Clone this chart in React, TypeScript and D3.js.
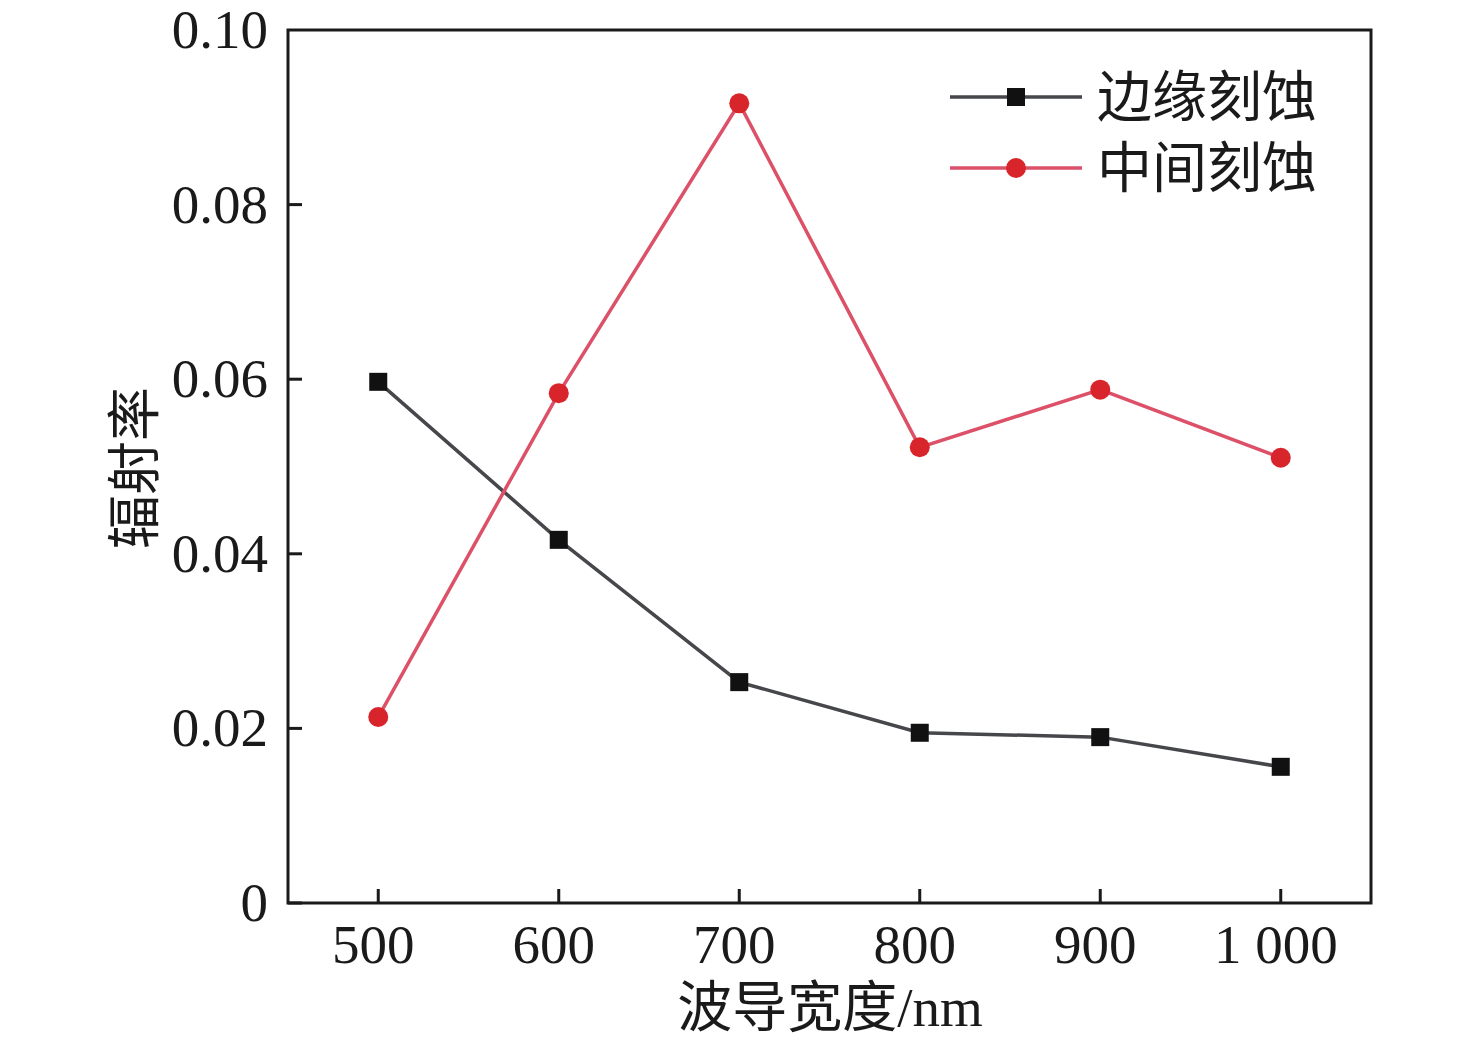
import React from "react";
import * as d3 from "d3";

const widths = [500, 600, 700, 800, 900, 1000];
const edgeEtch = [0.0597, 0.0416, 0.0253, 0.0195, 0.019, 0.0156];
const midEtch = [0.0213, 0.0584, 0.0916, 0.0522, 0.0588, 0.051];
const yTicks = [0, 0.02, 0.04, 0.06, 0.08, 0.1];
const xTicks = [500, 600, 700, 800, 900, 1000];
const xTickLabels = ["500", "600", "700", "800", "900", "1 000"];
const seriesNames = ["边缘刻蚀", "中间刻蚀"];

const W = 1476, H = 1043;
const L = 288, R = 1371, T = 30, B = 903;
const FONT = "'Liberation Serif', 'Times New Roman', 'Noto Sans CJK SC', serif";

export default function App() {
  const x = d3.scaleLinear().domain([450, 1050]).range([L, R]);
  const y = d3.scaleLinear().domain([0, 0.1]).range([B, T]);
  const line = d3.line<[number, number]>().x(d => x(d[0])).y(d => y(d[1]));
  const edgePts = widths.map((w, i) => [w, edgeEtch[i]] as [number, number]);
  const midPts = widths.map((w, i) => [w, midEtch[i]] as [number, number]);
  const blackLine = "#46474b";
  const redLine = "#dc5068";
  const redMark = "#d8252c";
  return (
    <svg width={W} height={H} style={{ position: "absolute", left: 0, top: 0, background: "#fff" }} fontFamily={FONT}>
      <rect x={0} y={0} width={W} height={H} fill="#fff" />
      <path d={line(edgePts) || ""} fill="none" stroke={blackLine} strokeWidth={3.5} />
      <path d={line(midPts) || ""} fill="none" stroke={redLine} strokeWidth={3.5} />
      {edgePts.map((p, i) => (
        <rect key={"e" + i} x={x(p[0]) - 9} y={y(p[1]) - 9} width={18} height={18} fill="#111" />
      ))}
      {midPts.map((p, i) => (
        <circle key={"m" + i} cx={x(p[0])} cy={y(p[1])} r={10} fill={redMark} />
      ))}
      <rect x={L} y={T} width={R - L} height={B - T} fill="none" stroke="#1a1a1a" strokeWidth={3} />
      {yTicks.map((t, i) => (
        <g key={"y" + i}>
          {t < 0.1 && <line x1={L} x2={L + 14} y1={y(t)} y2={y(t)} stroke="#1a1a1a" strokeWidth={3} />}
          <text x={268} y={y(t) + 18} textAnchor="end" fontSize={55} fill="#1a1a1a">
            {t === 0 ? "0" : t.toFixed(2)}
          </text>
        </g>
      ))}
      {xTicks.map((t, i) => (
        <g key={"x" + i}>
          <line x1={x(t)} x2={x(t)} y1={B} y2={B - 14} stroke="#1a1a1a" strokeWidth={3} />
          <text x={x(t) - 5} y={963} textAnchor="middle" fontSize={55} fill="#1a1a1a">
            {xTickLabels[i]}
          </text>
        </g>
      ))}
      <text x={830} y={1026} textAnchor="middle" fontSize={55} fill="#1a1a1a">波导宽度/nm</text>
      <text transform={`translate(154,468) rotate(-90)`} textAnchor="middle" fontSize={54} fill="#1a1a1a">辐射率</text>
      <g>
        <line x1={950} x2={1082} y1={97} y2={97} stroke={blackLine} strokeWidth={3.5} />
        <rect x={1016 - 9} y={97 - 9} width={18} height={18} fill="#111" />
        <text x={1097} y={116} fontSize={55} fill="#1a1a1a">{seriesNames[0]}</text>
        <line x1={950} x2={1082} y1={168} y2={168} stroke={redLine} strokeWidth={3.5} />
        <circle cx={1016} cy={168} r={10} fill={redMark} />
        <text x={1097} y={187} fontSize={55} fill="#1a1a1a">{seriesNames[1]}</text>
      </g>
    </svg>
  );
}
